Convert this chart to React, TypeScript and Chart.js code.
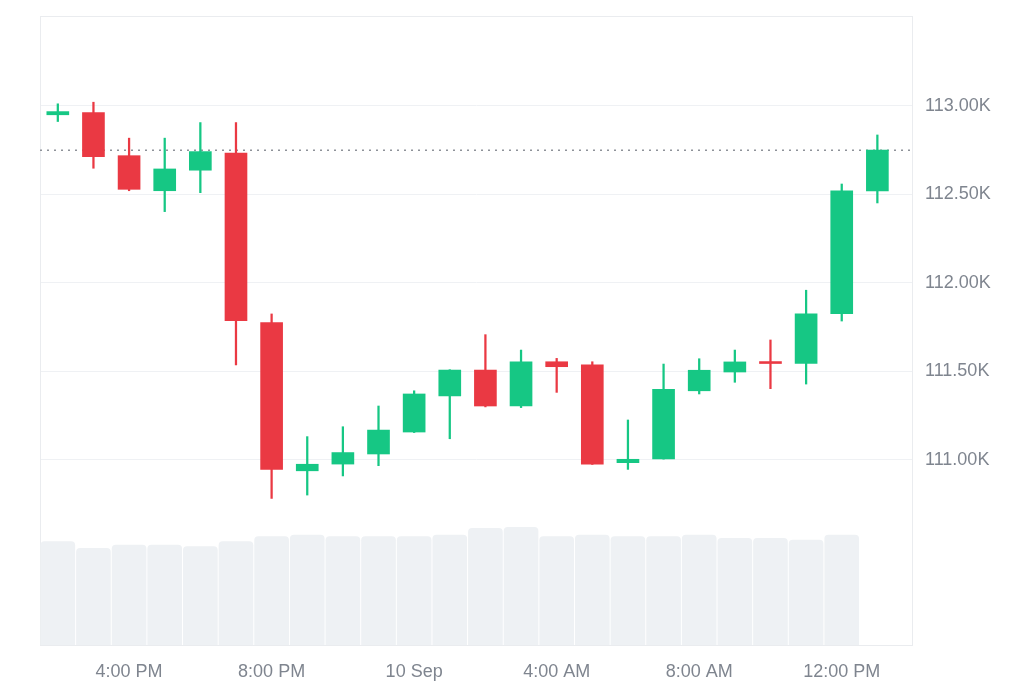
import React, { useEffect, useRef } from "react";
import { Chart, registerables } from "chart.js";

Chart.register(...registerables);

// Hourly candles, 9 Sep 2:00 PM -> 10 Sep 1:00 PM
const candleTimes = [
  "2:00 PM", "3:00 PM", "4:00 PM", "5:00 PM", "6:00 PM", "7:00 PM", "8:00 PM", "9:00 PM",
  "10:00 PM", "11:00 PM", "12:00 AM", "1:00 AM", "2:00 AM", "3:00 AM", "4:00 AM", "5:00 AM",
  "6:00 AM", "7:00 AM", "8:00 AM", "9:00 AM", "10:00 AM", "11:00 AM", "12:00 PM", "1:00 PM",
];
const openPrices = [
  112950, 112962, 112719, 112521, 112637, 112733, 111776, 110939,
  110977, 111034, 111158, 111362, 111508, 111305, 111555, 111537,
  110985, 111006, 111391, 111497, 111556, 111546, 111826, 112520,
];
const highPrices = [
  113012, 113021, 112818, 112818, 112906, 112906, 111825, 111132,
  111188, 111305, 111391, 111510, 111708, 111621, 111574, 111555,
  111226, 111542, 111572, 111621, 111678, 111959, 112559, 112836,
];
const lowPrices = [
  112912, 112648, 112521, 112403, 112510, 111537, 110783, 110802,
  110910, 110968, 111155, 111120, 111300, 111296, 111382, 110975,
  110947, 111005, 111373, 111439, 111403, 111429, 111785, 112452,
];
const closePrices = [
  112968, 112714, 112529, 112644, 112742, 111787, 110947, 110976,
  111042, 111169, 111373, 111508, 111305, 111555, 111527, 110977,
  111004, 111399, 111507, 111554, 111545, 111825, 112520, 112750,
];
const volumes: (number | null)[] = [
  1033, 967, 1000, 1000, 983, 1033, 1083, 1100,
  1083, 1083, 1083, 1100, 1167, 1177, 1083, 1100,
  1083, 1083, 1100, 1067, 1067, 1050, 1100, null,
];
const xTickIndex = [2, 6, 10, 14, 18, 22];
const xTickLabels = ["4:00 PM", "8:00 PM", "10 Sep", "4:00 AM", "8:00 AM", "12:00 PM"];
const yTickValues = [111000, 111500, 112000, 112500, 113000];
const lastPrice = 112750;

const UP = "#16c784";
const DOWN = "#ea3943";
const GRID = "#eff1f4";
const TEXT = "#7f858f";
const FONT = "'Liberation Sans', Arial, sans-serif";

const plotBorder = {
  id: "plotBorder",
  beforeDatasetsDraw(chart: any) {
    const { ctx, chartArea } = chart;
    const { left, top, right, bottom } = chartArea;
    ctx.save();
    ctx.strokeStyle = "#eaecef";
    ctx.lineWidth = 1;
    ctx.strokeRect(left + 0.5, top + 0.5, right - left - 1, bottom - top);
    ctx.restore();
  },
};

export default function App() {
  const canvasRef = useRef<HTMLCanvasElement | null>(null);

  useEffect(() => {
    if (!canvasRef.current) return;
    const dirColors = openPrices.map((o, i) => (closePrices[i] >= o ? UP : DOWN));
    const chart = new Chart(canvasRef.current, {
      type: "bar",
      data: {
        datasets: [
          {
            type: "bar",
            label: "Volume",
            data: volumes.map((v, i) => ({ x: i, y: v })) as any,
            yAxisID: "yv",
            xAxisID: "x",
            backgroundColor: "#eef1f4",
            borderWidth: 0,
            borderRadius: 4,
            barThickness: 34,
            grouped: false,
            order: 4,
          } as any,
          {
            type: "line",
            label: "Last price",
            data: [
              { x: -0.5, y: lastPrice },
              { x: 24, y: lastPrice },
            ],
            yAxisID: "y",
            xAxisID: "x",
            borderColor: "#8e9299",
            borderWidth: 1.5,
            borderDash: [2, 5],
            pointRadius: 0,
            fill: false,
            order: 3,
          } as any,
          {
            type: "bar",
            label: "High-Low",
            data: candleTimes.map((_, i) => ({ x: i, y: [lowPrices[i], highPrices[i]] })) as any,
            yAxisID: "y",
            xAxisID: "x",
            backgroundColor: dirColors,
            borderWidth: 0,
            barThickness: 1.6,
            grouped: false,
            order: 2,
          } as any,
          {
            type: "bar",
            label: "Open-Close",
            data: candleTimes.map((_, i) => ({ x: i, y: [openPrices[i], closePrices[i]] })) as any,
            yAxisID: "y",
            xAxisID: "x",
            backgroundColor: dirColors,
            borderWidth: 0,
            barThickness: 22,
            grouped: false,
            order: 1,
          } as any,
        ],
      },
      options: {
        animation: false,
        responsive: true,
        maintainAspectRatio: false,
        layout: { padding: { left: 40, top: 16, right: 0, bottom: 0 } },
        plugins: {
          legend: { display: false },
          tooltip: { enabled: false },
        },
        scales: {
          x: {
            type: "linear",
            min: -0.5,
            max: 24,
            offset: false,
            grid: { display: false, drawTicks: false },
            border: { display: false },
            afterBuildTicks: (scale: any) => {
              scale.ticks = xTickIndex.map((v) => ({ value: v }));
            },
            afterFit: (scale: any) => {
              scale.height = 38;
              scale.paddingLeft = 0;
              scale.paddingRight = 0;
            },
            ticks: {
              autoSkip: false,
              maxRotation: 0,
              padding: 16,
              color: TEXT,
              font: { family: FONT, size: 18 },
              callback: (v: any) => {
                const k = xTickIndex.indexOf(Number(v));
                return k >= 0 ? xTickLabels[k] : "";
              },
            },
          },
          y: {
            type: "linear",
            position: "right",
            min: 109955,
            max: 113508,
            grid: { color: GRID, lineWidth: 1, drawTicks: false },
            border: { display: false },
            afterBuildTicks: (scale: any) => {
              scale.ticks = yTickValues.map((v) => ({ value: v }));
            },
            afterFit: (scale: any) => {
              scale.width = 111;
              scale.paddingTop = 0;
              scale.paddingBottom = 0;
            },
            ticks: {
              padding: 12,
              color: TEXT,
              font: { family: FONT, size: 18 },
              callback: (v: any) => (Number(v) / 1000).toFixed(2) + "K",
            },
          },
          yv: {
            type: "linear",
            display: false,
            min: 0,
            max: 6290,
          },
        },
      } as any,
      plugins: [plotBorder],
    });
    return () => chart.destroy();
  }, []);

  return (
    <div
      style={{
        position: "fixed",
        left: 0,
        top: 0,
        width: 1024,
        height: 683,
        background: "#ffffff",
      }}
    >
      <canvas ref={canvasRef} />
    </div>
  );
}
